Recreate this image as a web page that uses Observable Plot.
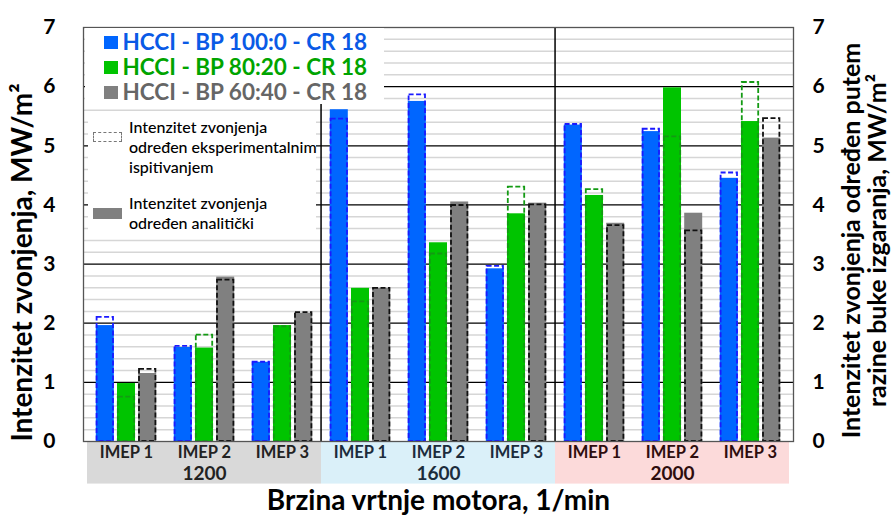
<!DOCTYPE html>
<html>
<head>
<meta charset="utf-8">
<script src="https://cdn.jsdelivr.net/npm/d3@7"></script>
<script src="https://cdn.jsdelivr.net/npm/@observablehq/plot@0.6"></script>
<style>
  body { margin: 0; background: #fff; }
  #wrap { position: relative; width: 895px; height: 518px; font-family: Lato, sans-serif; }
  #wrap svg { position: absolute; left: 0; top: 0; }
  .box { position: absolute; background: #fff; }
  .sq { position: absolute; }
  .txt { position: absolute; white-space: nowrap; }
</style>
</head>
<body>
<div id="wrap"></div>
<script>
// ---- data ----
const speeds = ["1200", "1600", "2000"];
const loads = ["IMEP 1", "IMEP 2", "IMEP 3"];
const seriesNames = ["HCCI - BP 100:0 - CR 18", "HCCI - BP 80:20 - CR 18", "HCCI - BP 60:40 - CR 18"];

// analytical (solid bars), order: 1200 IMEP1..3, 1600 IMEP1..3, 2000 IMEP1..3
const blueAnalytical  = [1.96, 1.59, 1.34, 5.61, 5.75, 2.92, 5.35, 5.24, 4.45];
const greenAnalytical = [0.98, 1.58, 1.96, 2.59, 3.36, 3.85, 4.16, 5.98, 5.41];
const grayAnalytical  = [1.15, 2.78, 2.17, 2.59, 4.05, 4.03, 3.69, 3.86, 5.13];

// experimental (dashed outlines)
const blueExperimental  = [2.10, 1.61, 1.34, 5.45, 5.86, 2.96, 5.36, 5.28, 4.54];
const greenExperimental = [0.75, 1.80, 1.94, 2.36, 3.17, 4.30, 4.26, 5.15, 6.07];
const grayExperimental  = [1.22, 2.73, 2.18, 2.59, 3.99, 4.00, 3.65, 3.56, 5.46];

const yTicks = [0, 1, 2, 3, 4, 5, 6, 7];
const yTitle = "Intenzitet zvonjenja, MW/m²";
const y2Title = "Intenzitet zvonjenja određen putem\nrazine buke izgaranja, MW/m²";
const xTitle = "Brzina vrtnje motora, 1/min";
const legendExperimental = ["Intenzitet zvonjenja", "određen eksperimentalnim", "ispitivanjem"];
const legendAnalytical = ["Intenzitet zvonjenja", "određen analitički"];

// ---- styles ----
const seriesFill = ["#0066ff", "#00c400", "#808080"];
const seriesOutline = ["#1a1aff", "#139a13", "#111111"];
const legendText = ["#0a5ae6", "#00a400", "#666666"];
const bandFill = ["#d9d9d9", "#daf0f9", "#fcdada"];
const bandText = ["#222222", "#1c2c3c", "#2e0d0d"];

const W = 895, H = 518, ML = 83, MR = 102, MT = 27, MB = 77;
const xKeys = speeds.flatMap(s => loads.map(l => s + " " + l));
const step = (W - ML - MR) / xKeys.length;
const barOffset = 21.2;
const barInset = 30;

const analytical = [blueAnalytical, greenAnalytical, grayAnalytical];
const experimental = [blueExperimental, greenExperimental, grayExperimental];
const rows = [];
seriesNames.forEach((name, si) => speeds.forEach((sp, i) => loads.forEach((ld, j) => {
  rows.push({series: name, si, speed: sp, load: ld, key: sp + " " + ld,
             analytical: analytical[si][i * 3 + j], experimental: experimental[si][i * 3 + j]});
})));
const bandRows = xKeys.map(k => ({key: k, speed: k.split(" ")[0]}));
const minorTicks = d3.range(0, 7.0001, 0.2).filter(v => Math.abs(v - Math.round(v)) > 1e-6);

const marks = [];
// category band below the axis
speeds.forEach((sp, i) => {
  marks.push(Plot.barY(bandRows.filter(d => d.speed === sp), {x: "key", y1: 0, y2: -0.72, fill: bandFill[i]}));
});
// grid
marks.push(Plot.ruleY(minorTicks, {stroke: "#d6d6d6", strokeWidth: 1.5}));
marks.push(Plot.ruleY(yTicks, {stroke: "#000", strokeWidth: 1.2}));
// separators between speed groups
marks.push(Plot.ruleX([speeds[1] + " " + loads[0], speeds[2] + " " + loads[0]],
  {x: d => d, y1: 0, y2: 7, dx: -step / 2, stroke: "#000", strokeWidth: 1.5}));
// analytical bars
seriesNames.forEach((name, si) => {
  marks.push(Plot.barY(rows.filter(d => d.si === si), {
    x: "key", y: "analytical", fill: seriesFill[si],
    dx: (si - 1) * barOffset, insetLeft: barInset, insetRight: barInset
  }));
});
// experimental outlines
seriesNames.forEach((name, si) => {
  marks.push(Plot.barY(rows.filter(d => d.si === si), {
    x: "key", y: "experimental", fill: "none", stroke: seriesOutline[si],
    strokeWidth: 1.8, strokeDasharray: "5,2.5",
    dx: (si - 1) * barOffset, insetLeft: barInset + 0.8, insetRight: barInset + 0.8
  }));
});
marks.push(Plot.frame({stroke: "#555", strokeWidth: 1.3}));
// axes
marks.push(Plot.axisY(yTicks, {anchor: "left", tickSize: 0, tickPadding: 28, fontSize: 21, fontWeight: 700, label: null, tickFormat: d => String(d), fill: "#000"}));
marks.push(Plot.axisY(yTicks, {anchor: "right", tickSize: 0, tickPadding: 19, fontSize: 21, fontWeight: 700, label: null, tickFormat: d => String(d), fill: "#000"}));
speeds.forEach((sp, i) => {
  marks.push(Plot.axisX(xKeys.filter(k => k.startsWith(sp)), {
    anchor: "bottom", tickSize: 0, tickPadding: 4.5, fontSize: 16.5, fontWeight: 700, label: null,
    tickFormat: k => k.split(" ").slice(1).join(" "), fill: bandText[i]
  }));
  marks.push(Plot.axisX([sp + " " + loads[1]], {
    anchor: "bottom", tickSize: 0, tickPadding: 25, fontSize: 19, fontWeight: 700, label: null,
    tickFormat: k => k.split(" ")[0], fill: bandText[i]
  }));
});
// titles
marks.push(Plot.text([yTitle], {text: d => d, frameAnchor: "left", textAnchor: "middle", lineAnchor: "middle", rotate: -90, dx: -60, dy: 28, fontSize: 28, fontWeight: 700, fill: "#000"}));
marks.push(Plot.text([y2Title], {text: d => d, frameAnchor: "right", textAnchor: "middle", lineAnchor: "middle", rotate: -90, dx: 71, dy: 6, fontSize: 25, fontWeight: 700, lineHeight: 1.05, fill: "#000"}));
marks.push(Plot.text([xTitle], {text: d => d, frameAnchor: "bottom", textAnchor: "middle", lineAnchor: "middle", dy: 60, fontSize: 28, fontWeight: 700, fill: "#000"}));

const svg = Plot.plot({
  width: W, height: H, marginTop: MT, marginBottom: MB, marginLeft: ML, marginRight: MR,
  x: {domain: xKeys, padding: 0},
  y: {domain: [0, 7]},
  style: {fontFamily: "Lato, sans-serif", color: "#000", background: "transparent", overflow: "visible"},
  marks
});
const wrap = document.getElementById("wrap");
wrap.appendChild(svg);

// ---- legend overlay ----
const box1 = document.createElement("div");
box1.className = "box";
Object.assign(box1.style, {left: "84.5px", top: "28px", width: "299px", height: "76px"});
seriesNames.forEach((name, si) => {
  const sq = document.createElement("div");
  sq.className = "sq";
  Object.assign(sq.style, {left: "19px", top: (8 + si * 25) + "px", width: "14px", height: "13px", background: seriesFill[si]});
  box1.appendChild(sq);
  const t = document.createElement("div");
  t.className = "txt";
  t.textContent = name;
  Object.assign(t.style, {left: "38px", top: (1 + si * 25) + "px", fontSize: "22.5px", lineHeight: "25px", fontWeight: 700, color: legendText[si]});
  box1.appendChild(t);
});
wrap.appendChild(box1);

const box2 = document.createElement("div");
box2.className = "box";
Object.assign(box2.style, {left: "88px", top: "113px", width: "228px", height: "124px"});
const ic1 = document.createElement("div");
ic1.className = "sq";
Object.assign(ic1.style, {left: "4.5px", top: "18.5px", width: "27px", height: "8px", border: "1px dashed #777"});
box2.appendChild(ic1);
legendExperimental.forEach((line, i) => {
  const t = document.createElement("div");
  t.className = "txt";
  t.textContent = line;
  Object.assign(t.style, {left: "41px", top: (3.5 + i * 20) + "px", fontSize: "16px", lineHeight: "20px", fontWeight: 500, color: "#000"});
  box2.appendChild(t);
});
const ic2 = document.createElement("div");
ic2.className = "sq";
Object.assign(ic2.style, {left: "4.5px", top: "95px", width: "29px", height: "11px", background: "#808080"});
box2.appendChild(ic2);
legendAnalytical.forEach((line, i) => {
  const t = document.createElement("div");
  t.className = "txt";
  t.textContent = line;
  Object.assign(t.style, {left: "41px", top: (80 + i * 20) + "px", fontSize: "16px", lineHeight: "20px", fontWeight: 500, color: "#000"});
  box2.appendChild(t);
});
wrap.appendChild(box2);
</script>
</body>
</html>
